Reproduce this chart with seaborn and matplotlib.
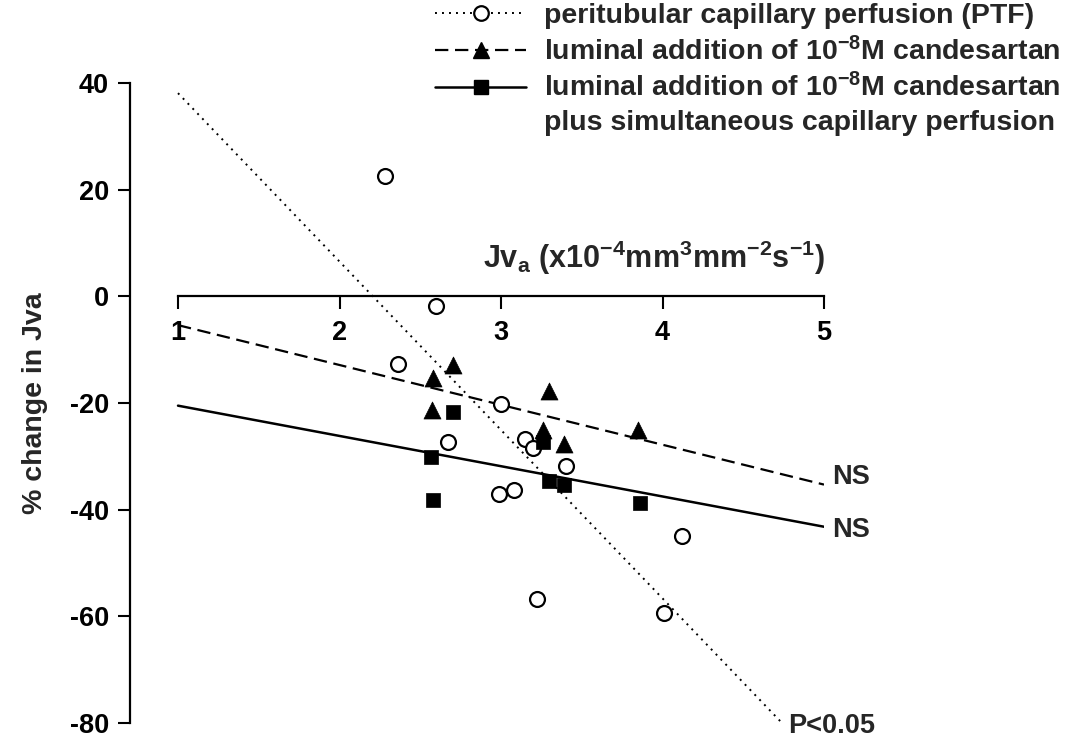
import numpy as np
import pandas as pd
import matplotlib
matplotlib.use("Agg")
import matplotlib.pyplot as plt
import seaborn as sns
from matplotlib.lines import Line2D
from matplotlib.legend_handler import HandlerLine2D

# ---------------- data ----------------
# peritubular capillary perfusion (PTF)  -> open circles
ptf_x = [2.28, 2.60, 2.36, 3.00, 2.67, 3.15, 3.20, 3.40, 2.99, 3.08, 4.12, 4.01, 3.22]
ptf_y = [22.6, -1.8, -12.6, -20.2, -27.4, -26.7, -28.4, -31.9, -37.1, -36.4, -45.0, -59.4, -56.8]

# luminal addition of 1e-8 M candesartan -> filled triangles
cand_x = [2.70, 2.58, 3.30, 2.57, 3.85, 3.26, 3.39]
cand_y = [-12.8, -15.3, -17.8, -21.4, -25.0, -25.1, -27.6]

# candesartan plus simultaneous capillary perfusion -> filled squares
comb_x = [2.70, 2.565, 3.26, 3.30, 3.39, 3.86, 2.58]
comb_y = [-21.6, -30.1, -27.4, -34.6, -35.4, -38.8, -38.1]

# regression lines (end points)
ptf_fit_x = [1.0, 4.74]
ptf_fit_y = [38.1, -80.0]
cand_fit_x = [1.0, 5.0]
cand_fit_y = [-5.4, -35.3]
comb_fit_x = [1.0, 5.0]
comb_fit_y = [-20.5, -43.2]

x_ticks = [1, 2, 3, 4, 5]
y_ticks = [-80, -60, -40, -20, 0, 20, 40]

labels = [
    "peritubular capillary perfusion (PTF)",
    r"luminal addition of 10$^{-8}$M candesartan",
    r"luminal addition of 10$^{-8}$M candesartan",
    "plus simultaneous capillary perfusion",
]

# ---------------- style ----------------
sns.set_theme(style="white")
plt.rcParams["font.family"] = ["Liberation Sans", "DejaVu Sans"]
plt.rcParams["font.weight"] = "bold"
plt.rcParams["mathtext.fontset"] = "custom"
plt.rcParams["mathtext.rm"] = "Liberation Sans:bold"
plt.rcParams["mathtext.bf"] = "Liberation Sans:bold"
plt.rcParams["mathtext.it"] = "Liberation Sans:bold"
plt.rcParams["mathtext.default"] = "rm"

W, H = 1073, 743
fig = plt.figure(figsize=(W / 100, H / 100), dpi=100)
fig.patch.set_facecolor("white")
ax = fig.add_axes([130 / W, 1 - 723 / H, (824 - 130) / W, (723 - 83) / H])
ax.set_facecolor("white")

dotted = (0, (1, 2.6))
dashed = (0, (6, 3))

# lines
sns.lineplot(x=ptf_fit_x, y=ptf_fit_y, ax=ax, color="black", lw=1.4, ls=dotted, zorder=2)
sns.lineplot(x=cand_fit_x, y=cand_fit_y, ax=ax, color="black", lw=1.6, ls=dashed, zorder=2)
sns.lineplot(x=comb_fit_x, y=comb_fit_y, ax=ax, color="black", lw=1.8, ls="-", zorder=2)

# points
sns.scatterplot(x=ptf_x, y=ptf_y, ax=ax, marker="o", s=115, color="white",
                edgecolor="black", linewidth=1.6, zorder=4)
sns.scatterplot(x=cand_x, y=cand_y, ax=ax, marker="^", s=150, color="black",
                edgecolor="black", linewidth=0.5, zorder=4)
sns.scatterplot(x=comb_x, y=comb_y, ax=ax, marker="s", s=105, color="black",
                edgecolor="black", linewidth=0.5, zorder=4)

# axes
ax.set_xlim(1 - 48 / 161.5, 5.0)
ax.set_ylim(-80, 40)
ax.set_xticks(x_ticks)
ax.set_yticks(y_ticks)
ax.set_xticklabels([str(t) for t in x_ticks])
ax.set_yticklabels([str(t) for t in y_ticks])

for s in ["top", "right"]:
    ax.spines[s].set_visible(False)
ax.spines["left"].set_linewidth(1.6)
ax.spines["left"].set_color("black")
ax.spines["left"].set_bounds(-80, 40)
ax.spines["bottom"].set_position(("data", 0))
ax.spines["bottom"].set_bounds(1, 5)
ax.spines["bottom"].set_linewidth(1.6)
ax.spines["bottom"].set_color("black")
ax.spines["bottom"].set_zorder(1)

ax.tick_params(axis="y", direction="out", length=9, width=1.5, pad=6,
               labelsize=19.5, colors="black", left=True)
ax.tick_params(axis="x", direction="out", length=9, width=1.5, pad=8,
               labelsize=19.5, colors="black", bottom=True)
for t in ax.get_xticklabels() + ax.get_yticklabels():
    t.set_fontweight("bold")

ax.set_xlabel(r"Jv$_{\mathrm{a}}$ (x10$^{-4}$mm$^{3}$mm$^{-2}$s$^{-1}$)",
              fontsize=22, fontweight="bold")
ax.xaxis.set_label_coords(3.95, 7.3, transform=ax.transData)
ax.xaxis.label.set_va("center")

ax.set_ylabel("% change in Jva", fontsize=20.5, fontweight="bold")
ax.yaxis.set_label_coords(-0.137, 0.5)
ax.yaxis.label.set_va("center")

# annotations
ax.text(5.05, -33.9, "NS", ha="left", va="center", fontsize=19.5,
        fontweight="bold", clip_on=False)
ax.text(5.05, -43.9, "NS", ha="left", va="center", fontsize=19.5,
        fontweight="bold", clip_on=False)
ax.text(4.78, -80.5, "P<0.05", ha="left", va="center", fontsize=19.5,
        fontweight="bold", clip_on=False)


# legend with marker placed towards the right end of the handle
class RightMarkerHandler(HandlerLine2D):
    def get_xdata(self, legend, xdescent, ydescent, width, height, fontsize):
        xdata = np.array([-xdescent, -xdescent + width])
        xdata_marker = np.array([-xdescent + 0.7 * width])
        return xdata, xdata_marker


h1 = Line2D([], [], color="black", lw=1.4, ls=dotted, marker="o", markersize=10.5,
            markerfacecolor="white", markeredgecolor="black", markeredgewidth=1.6)
h2 = Line2D([], [], color="black", lw=1.6, ls=dashed, marker="^", markersize=12,
            markerfacecolor="black", markeredgecolor="black")
h3 = Line2D([], [], color="black", lw=1.8, ls="-", marker="s", markersize=10,
            markerfacecolor="black", markeredgecolor="black")
h4 = Line2D([], [], color="none", lw=0)
hm = {h: RightMarkerHandler(numpoints=1) for h in (h1, h2, h3)}
leg = fig.legend([h1, h2, h3, h4], labels, loc="upper left",
                 bbox_to_anchor=(435 / W, 1 - 3 / H), frameon=False,
                 fontsize=20.5, handlelength=3.2, handletextpad=0.62,
                 labelspacing=0.27, borderpad=0, borderaxespad=0,
                 handler_map=hm)
for t in leg.get_texts():
    t.set_fontweight("bold")

fig.savefig("out.png", dpi=100, facecolor="white")
